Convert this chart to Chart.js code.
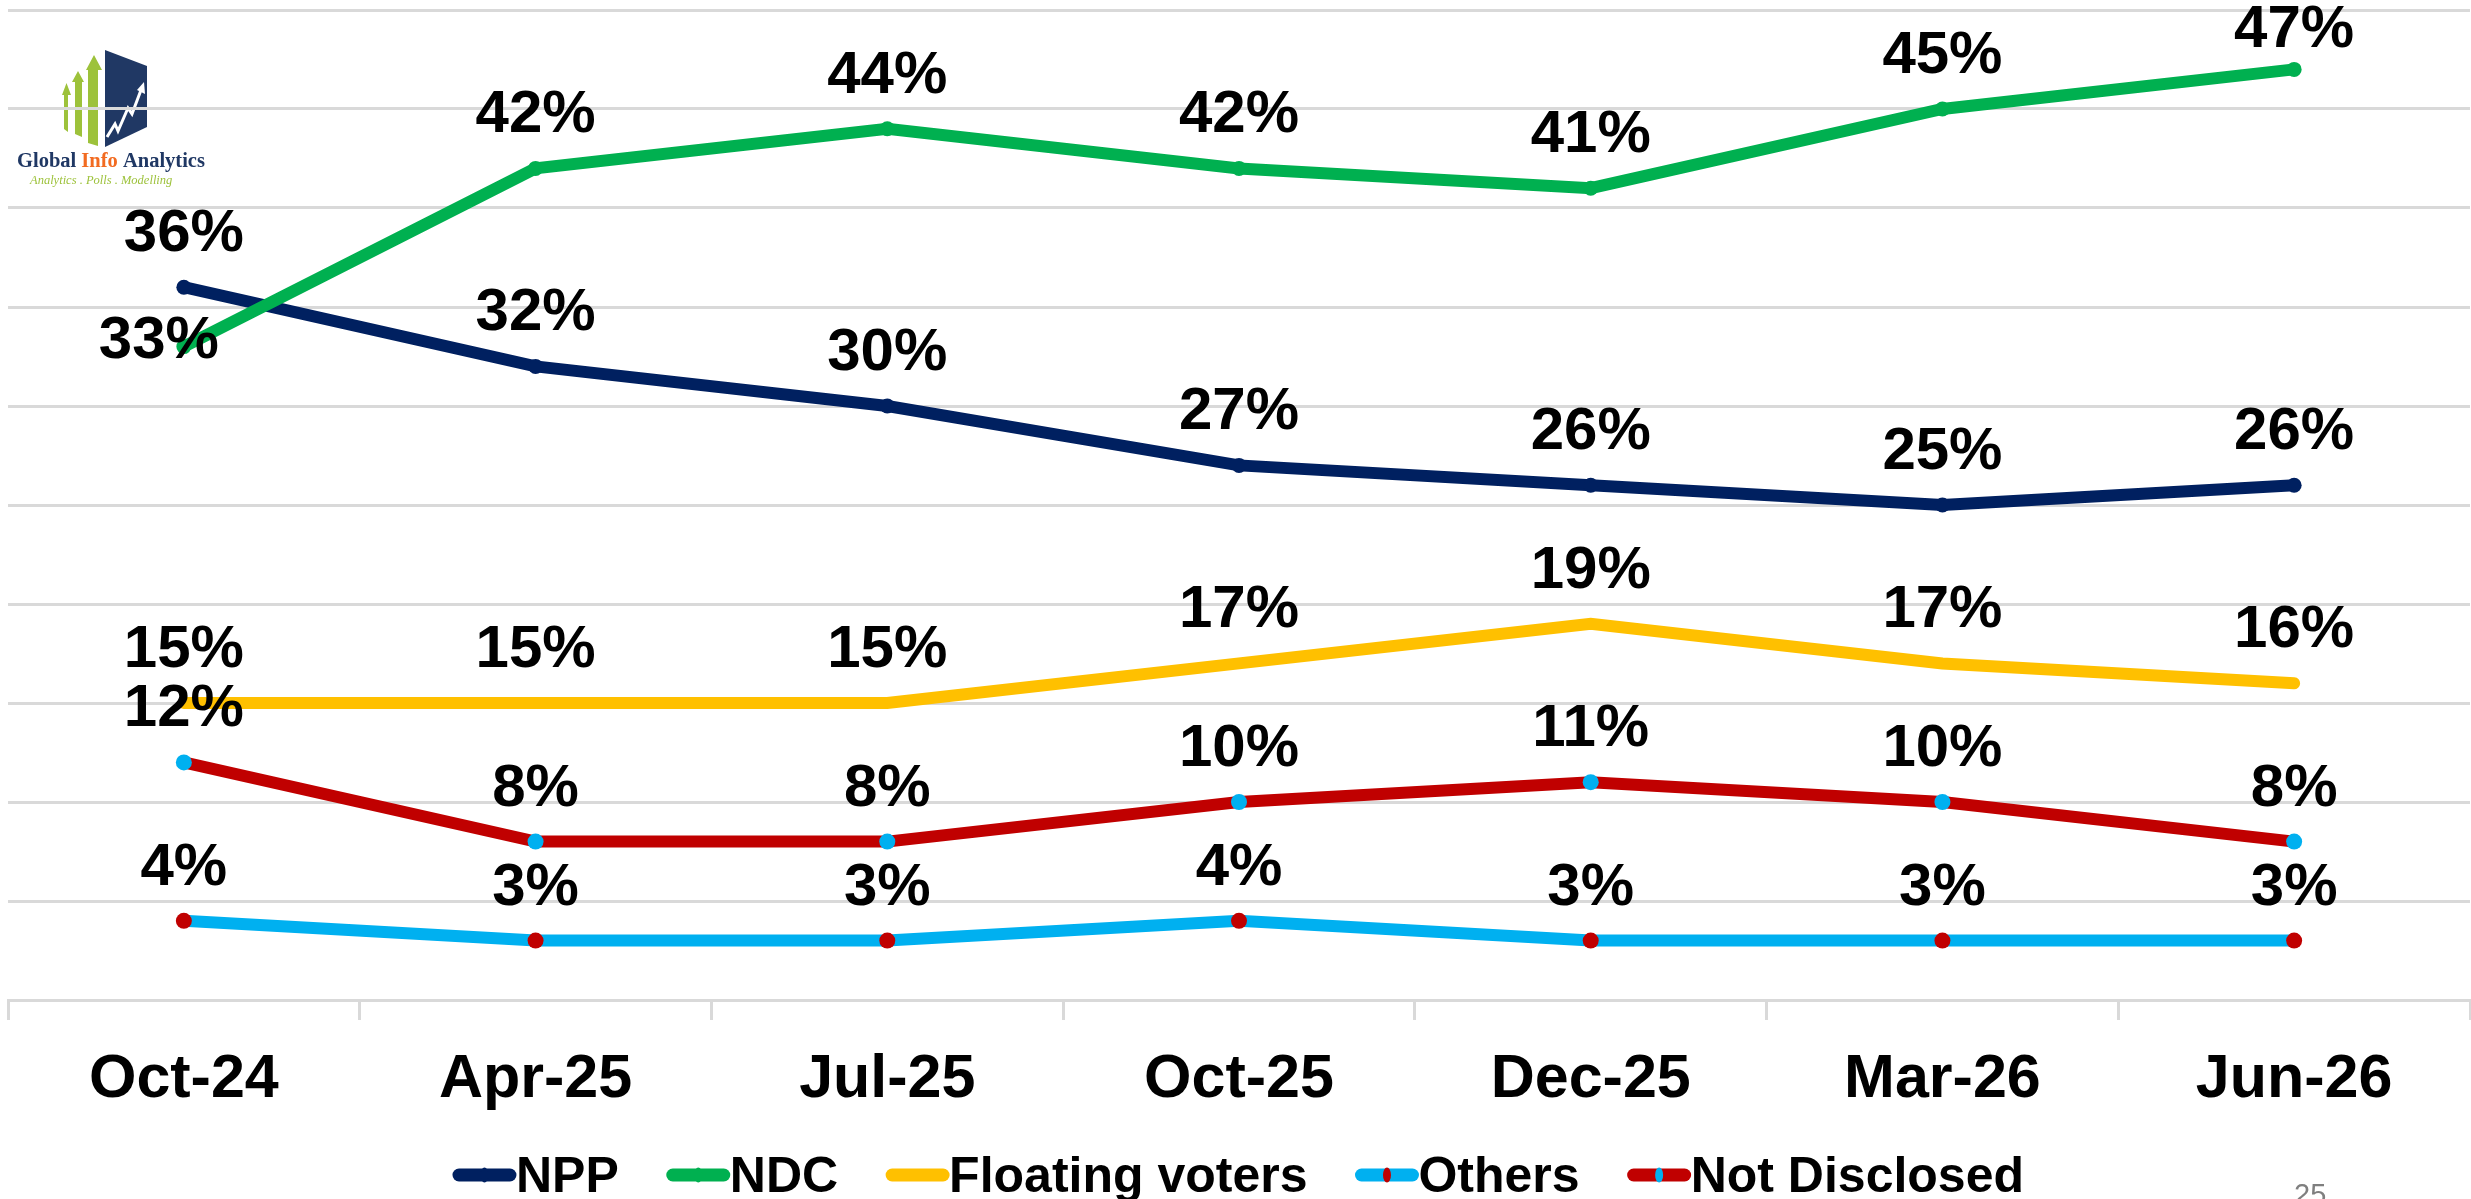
<!DOCTYPE html>
<html>
<head>
<meta charset="utf-8">
<script src="https://cdn.jsdelivr.net/npm/chart.js@4.4.1/dist/chart.umd.min.js"></script>
<style>
  body { margin: 0; background: #fff; }
  canvas { display: block; }
</style>
</head>
<body>
<canvas id="graph" width="2471" height="1199"></canvas>
<script>
const labels = ['Oct-24', 'Apr-25', 'Jul-25', 'Oct-25', 'Dec-25', 'Mar-26', 'Jun-26'];
const npp = [36, 32, 30, 27, 26, 25, 26];
const ndc = [33, 42, 44, 42, 41, 45, 47];
const floating = [15, 15, 15, 17, 19, 17, 16];
const others = [4, 3, 3, 4, 3, 3, 3];
const notDisclosed = [12, 8, 8, 10, 11, 10, 8];
const pageNumber = '25';

const FONT = '"Liberation Sans", Arial, sans-serif';

// fundo branco + logotipo (desenhado antes da grelha)
const background = {
    id: 'background',
    beforeDraw(chart) {
        const ctx = chart.ctx;
        ctx.save();
        ctx.fillStyle = '#fff';
        ctx.fillRect(0, 0, chart.width, chart.height);

        const green = '#9dc23b';
        ctx.fillStyle = green;
        const arrows = [
            [64, 68, 62, 71, 95, 83, 132],
            [75, 82, 72, 84, 82, 71, 137],
            [88, 98, 86, 102, 70, 55, 146]
        ];
        arrows.forEach(a => {
            const [s0, s1, h0, h1, hy, tip, bottom] = a;
            ctx.beginPath();
            ctx.moveTo(s0, bottom - 3);
            ctx.lineTo(s0, hy);
            ctx.lineTo(h0, hy);
            ctx.lineTo((h0 + h1) / 2, tip);
            ctx.lineTo(h1, hy);
            ctx.lineTo(s1, hy);
            ctx.lineTo(s1, bottom);
            ctx.closePath();
            ctx.fill();
        });

        ctx.fillStyle = '#203864';
        ctx.beginPath();
        ctx.moveTo(105, 50);
        ctx.lineTo(147, 66);
        ctx.lineTo(147, 127);
        ctx.lineTo(105, 147);
        ctx.closePath();
        ctx.fill();

        ctx.strokeStyle = '#fff';
        ctx.lineWidth = 3;
        ctx.lineJoin = 'miter';
        ctx.beginPath();
        ctx.moveTo(107, 137);
        ctx.lineTo(115, 124);
        ctx.lineTo(118, 131);
        ctx.lineTo(128, 108);
        ctx.lineTo(132, 114);
        ctx.lineTo(141, 90);
        ctx.stroke();
        ctx.fillStyle = '#fff';
        ctx.beginPath();
        ctx.moveTo(144, 82);
        ctx.lineTo(145, 94);
        ctx.lineTo(137, 90);
        ctx.closePath();
        ctx.fill();

        ctx.font = 'bold 20.5px "Liberation Serif", "Times New Roman", serif';
        ctx.textBaseline = 'alphabetic';
        let x = 17;
        [['Global ', '#203864'], ['Info ', '#f26b21'], ['Analytics', '#203864']].forEach(p => {
            ctx.fillStyle = p[1];
            ctx.fillText(p[0], x, 167);
            x += ctx.measureText(p[0]).width;
        });
        ctx.font = 'italic 12.5px "Liberation Serif", "Times New Roman", serif';
        ctx.fillStyle = green;
        ctx.fillText('Analytics . Polls . Modelling', 30, 184);
        ctx.restore();
    }
};

// rótulos de valor por cima dos pontos
const valueLabels = {
    id: 'valueLabels',
    afterDatasetsDraw(chart) {
        const ctx = chart.ctx;
        ctx.save();
        ctx.font = 'bold 60px ' + FONT;
        ctx.fillStyle = '#000';
        ctx.textAlign = 'center';
        ctx.textBaseline = 'alphabetic';
        chart.data.datasets.forEach((ds, i) => {
            const meta = chart.getDatasetMeta(i);
            meta.data.forEach((pt, j) => {
                let dx = 0, dy = -36;
                if (ds.labelShift && ds.labelShift[j]) {
                    dx = ds.labelShift[j][0];
                    dy = ds.labelShift[j][1];
                }
                const y = Math.max(pt.y + dy, 47);
                ctx.fillText(ds.data[j] + '%', pt.x + dx, y);
            });
        });
        ctx.restore();
    }
};

// legenda estilo Excel + número do slide
const bottomLegend = {
    id: 'bottomLegend',
    afterDraw(chart) {
        const ctx = chart.ctx;
        ctx.save();
        ctx.font = 'bold 50px ' + FONT;
        const gap = 48, sym = 63;
        const items = chart.data.datasets.map(ds => ({ ds: ds, w: sym + ctx.measureText(ds.label).width }));
        const total = items.reduce((s, it) => s + it.w, 0) + gap * (items.length - 1);
        let x = chart.width / 2 + 3 - total / 2;
        const y = 1175;
        items.forEach(it => {
            const ds = it.ds;
            ctx.strokeStyle = ds.borderColor;
            ctx.lineWidth = 13;
            ctx.lineCap = 'round';
            ctx.beginPath();
            ctx.moveTo(x + 6, y);
            ctx.lineTo(x + sym - 6, y);
            ctx.stroke();
            if (ds.pointRadius > 0) {
                ctx.fillStyle = ds.pointBackgroundColor;
                ctx.beginPath();
                ctx.ellipse(x + sym / 2, y, 4, 7.5, 0, 0, Math.PI * 2);
                ctx.fill();
            }
            ctx.fillStyle = '#000';
            ctx.textBaseline = 'alphabetic';
            ctx.fillText(ds.label, x + sym, 1192);
            x += it.w + gap;
        });

        ctx.font = '29px ' + FONT;
        ctx.fillStyle = '#7f7f7f';
        ctx.fillText(pageNumber, 2294, 1204);
        ctx.restore();
    }
};

const ctx = document.getElementById('graph').getContext('2d');
const graph = new Chart(ctx, {
    type: 'line',
    data: {
        labels: labels,
        datasets: [{
            label: 'NPP',
            data: npp,
            borderColor: '#002060',
            borderWidth: 12,
            pointBackgroundColor: '#002060',
            pointBorderWidth: 0,
            pointRadius: 7.5,
            order: 4
        }, {
            label: 'NDC',
            data: ndc,
            borderColor: '#00b050',
            borderWidth: 12,
            pointBackgroundColor: '#00b050',
            pointBorderWidth: 0,
            pointRadius: 7.5,
            labelShift: { 0: [-25, 11] },
            order: 3
        }, {
            label: 'Floating voters',
            data: floating,
            borderColor: '#ffc000',
            borderWidth: 12,
            pointBackgroundColor: '#ffc000',
            pointBorderWidth: 0,
            pointRadius: 0,
            order: 2
        }, {
            label: 'Others',
            data: others,
            borderColor: '#00b0f0',
            borderWidth: 12,
            pointBackgroundColor: '#c00000',
            pointBorderWidth: 0,
            pointRadius: 8,
            order: 1
        }, {
            label: 'Not Disclosed',
            data: notDisclosed,
            borderColor: '#c00000',
            borderWidth: 12,
            pointBackgroundColor: '#00b0f0',
            pointBorderWidth: 0,
            pointRadius: 8,
            order: 0
        }]
    },
    options: {
        responsive: false,
        devicePixelRatio: 1,
        animation: false,
        layout: {
            autoPadding: false,
            padding: { left: 8, right: 1, top: 10, bottom: 0 }
        },
        elements: {
            line: {
                borderCapStyle: 'round',
                tension: 0
            }
        },
        scales: {
            y: {
                min: 0,
                max: 50,
                ticks: { stepSize: 5, display: false },
                grid: { color: '#d9d9d9', lineWidth: 3, drawTicks: false },
                border: { display: false },
                afterFit(scale) { scale.width = 0; }
            },
            x: {
                offset: true,
                grid: {
                    offset: true,
                    drawOnChartArea: false,
                    drawTicks: true,
                    tickLength: 20,
                    color: '#d9d9d9',
                    lineWidth: 3
                },
                border: { display: true, color: '#d9d9d9', width: 3 },
                ticks: {
                    color: '#000',
                    padding: 24,
                    font: { family: FONT, size: 61, weight: 'bold' },
                    maxRotation: 0
                },
                afterFit(scale) { scale.height = 199; }
            }
        },
        plugins: {
            legend: { display: false },
            tooltip: { enabled: false }
        }
    },
    plugins: [background, valueLabels, bottomLegend]
});
</script>
</body>
</html>
